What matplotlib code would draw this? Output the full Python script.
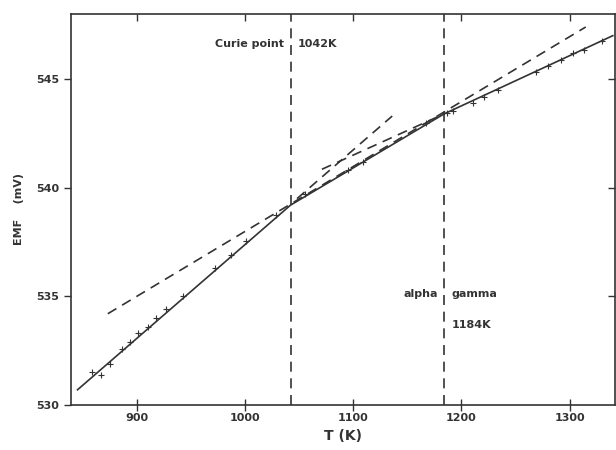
import matplotlib.pyplot as plt

# measured points (T in K, EMF in mV)
temps = [858, 867, 875, 886, 893.5, 901, 910, 918, 927, 943, 972, 986.5,
         1001, 1029, 1055, 1095, 1109, 1167, 1187, 1192, 1210.5, 1221,
         1234, 1269, 1280, 1292, 1303, 1313, 1330]
emf = [531.5, 531.4, 531.9, 532.6, 532.9, 533.3, 533.6, 534.0, 534.4,
       535.0, 536.3, 536.9, 537.55, 538.75, 539.7, 540.8, 541.2, 543.0,
       543.45, 543.55, 543.9, 544.2, 544.5, 545.35, 545.6, 545.9, 546.2, 546.35,
       546.75]

# fitted curve through the data (solid)
fit_T = [845, 1042, 1184, 1340]
fit_emf = [530.7, 539.2, 543.4, 547.0]

# extrapolated fits (dashed)
alpha_T = [873, 1315]
alpha_emf = [534.2, 547.4]
ferro_T = [1048, 1136]
ferro_emf = [539.5, 543.3]
gamma_T = [1071, 1184]
gamma_emf = [540.85, 543.4]

transitions = [1042, 1184]

ink = '#333333'
dash = (0, (6, 4))
fig = plt.figure(figsize=(6.16, 4.5), dpi=100)
ax = fig.add_axes([0.1153, 0.1, 0.883, 0.869])

ax.plot(fit_T, fit_emf, color=ink, lw=1.2)
ax.plot(temps, emf, ls='none', color=ink, marker='+', ms=4, mew=0.8)
for xs, ys in [(alpha_T, alpha_emf), (ferro_T, ferro_emf), (gamma_T, gamma_emf)]:
    ax.plot(xs, ys, color=ink, lw=1.2, ls=dash)
for t in transitions:
    ax.axvline(t, color=ink, lw=1.2, ls=dash)

txt = dict(fontsize=8, fontweight='bold', color=ink)
ax.text(1036, 546.6, 'Curie point', ha='right', va='center', **txt)
ax.text(1049, 546.6, '1042K', ha='left', va='center', **txt)
ax.text(1178, 535.1, 'alpha', ha='right', va='center', **txt)
ax.text(1191, 535.1, 'gamma', ha='left', va='center', **txt)
ax.text(1191, 533.7, '1184K', ha='left', va='center', **txt)

ax.set_xlim(839, 1342)
ax.set_ylim(530, 548)
xt = [900, 1000, 1100, 1200, 1300]
yt = [530, 535, 540, 545]
ax.set_xticks(xt)
ax.set_yticks(yt)
ax.tick_params(axis='x', direction='inout', length=8, width=1, colors=ink,
               labelsize=8, pad=2)
ax.tick_params(axis='y', direction='out', length=5, width=1, colors=ink,
               labelsize=8)
for lab in ax.get_xticklabels() + ax.get_yticklabels():
    lab.set_fontweight('bold')
for s in ax.spines.values():
    s.set_color(ink)
    s.set_linewidth(1.2)

# inward ticks on top and right
top = ax.secondary_xaxis('top')
top.set_xticks(xt)
top.tick_params(direction='in', length=5, width=1, colors=ink, labeltop=False)
right = ax.secondary_yaxis('right')
right.set_yticks(yt[1:])
right.tick_params(direction='in', length=5, width=1, colors=ink, labelright=False)
top.spines['top'].set_visible(False)
right.spines['right'].set_visible(False)

ax.set_xlabel('T (K)', fontsize=10, fontweight='bold', color=ink, labelpad=4)
ax.set_ylabel('EMF    (mV)', fontsize=8, fontweight='bold', color=ink, labelpad=9)

fig.savefig('out.png', dpi=100)
